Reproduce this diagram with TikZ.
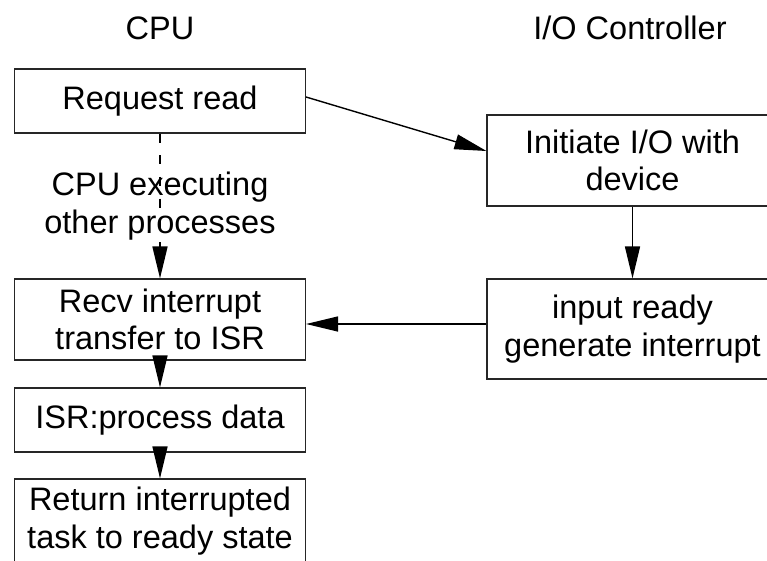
\documentclass[tikz,border=0pt]{standalone}
\usepackage{fontspec}
\setmainfont{Liberation Sans}
\usepackage{tikz}
\usetikzlibrary{arrows,arrows.meta,shapes,positioning}

\begin{document}
\begin{tikzpicture}[x=1pt, y=-1pt, font=\fontsize{32.5}{37.5}\selectfont]
\tikzset{BoxStyle/.style =
{draw = black!85,
line width = 1.1pt,
minimum width = 291pt,
align = center,
inner sep = 0pt}}
\tikzset{ArrowStyle/.style =
{line width = 1.4pt,
-{Triangle[length=32pt, width=15pt]}}}
\useasboundingbox (0,0) rectangle (767,560);
%\draw[gray] (0,0) rectangle (767,560);
\node (cpu) at (160,28) {CPU};
\node (ioc) at (630,28) {I/O Controller};
\node[BoxStyle, minimum height = 64pt] (req) at (160,101) {Request read};
\node[BoxStyle, minimum height = 81pt] (recv) at (160,319.5) {Recv interrupt\\transfer to ISR};
\node[BoxStyle, minimum height = 64pt] (isr) at (160,420) {ISR:process data};
\node[BoxStyle, minimum height = 84pt] (ret) at (160,521) {Return interrupted\\task to ready state};
\node[BoxStyle, minimum height = 91pt] (init) at (632.5,160.5) {Initiate I/O with\\device};
\node[BoxStyle, minimum height = 100pt] (inp) at (632.5,329) {input ready\\generate interrupt};
\draw[ArrowStyle, line width = 1.6pt, dash pattern = on 9pt off 12.7pt] (req.south) -- (recv.north);
\node[align = center] (other) at (160,206) {CPU executing\\other processes};
\draw[ArrowStyle] ([yshift=4pt]req.east) -- ([yshift=9.5pt]init.west);
\draw[ArrowStyle] (init.south) -- (inp.north);
\draw[ArrowStyle] ([yshift=5pt]inp.west) -- ([yshift=-4.5pt]recv.east);
\draw[ArrowStyle] (recv.south) -- (isr.north);
\draw[ArrowStyle] (isr.south) -- (ret.north);
\end{tikzpicture}
\end{document}
